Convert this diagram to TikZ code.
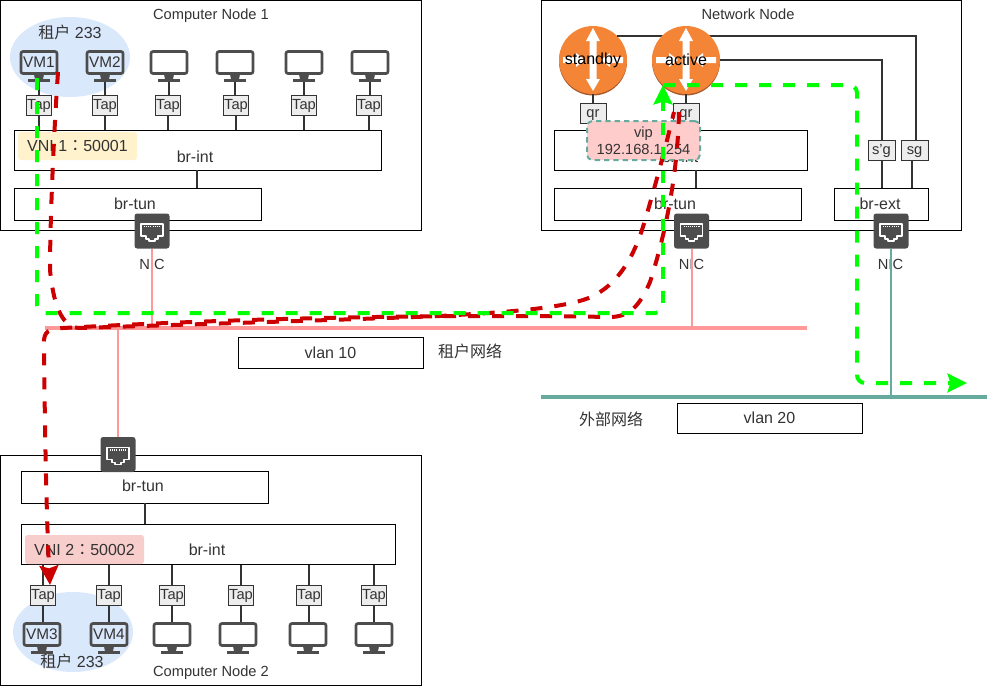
\documentclass[tikz,border=0pt]{standalone}
\usepackage{fontspec}
\setmainfont{Liberation Sans}
\newfontfamily\cjk{Noto Sans CJK SC}
\newfontfamily\cjkcolon{Noto Sans CJK TC}
\usetikzlibrary{arrows.meta, shapes.geometric}
\definecolor{txtgray}{HTML}{333333}
\definecolor{icongray}{HTML}{4D4D4D}
\definecolor{tenantblue}{HTML}{DAE8FC}
\definecolor{vnione}{HTML}{FFF2CC}
\definecolor{vnitwo}{HTML}{F8CECC}
\definecolor{vipred}{HTML}{FFCCCC}
\definecolor{tealline}{HTML}{67AB9F}
\definecolor{pinkline}{HTML}{FF9999}
\definecolor{routerorange}{HTML}{F58536}
\definecolor{routerdark}{HTML}{A9592A}
\definecolor{pathgreen}{HTML}{00FF00}
\definecolor{pathred}{HTML}{CC0000}
\tikzset{>={Stealth[length=14.5pt,width=14pt,inset=2pt]}}
\tikzset{
  wh/.style 2 args={minimum width=#1*0.75pt,minimum height=#2*0.75pt,inner sep=0pt},
  big/.style={font=\fontsize{12}{14}\selectfont,text=txtgray},
  small/.style={font=\fontsize{11}{12}\selectfont,text=txtgray,text height=8pt,text depth=1pt},
  plainbox/.style={draw=black,line width=0.75pt},
  smallbox/.style={draw=txtgray,fill=black!7,line width=0.75pt,small,wh={26}{20}},
  vmscreen/.style={draw=icongray,line width=2pt,rounded corners=1.5pt,wh={36}{22},
    font=\fontsize{11.5}{12}\selectfont,text=txtgray},
  tenant/.style={ellipse,fill=tenantblue,wh={120}{80}},
  nicbox/.style={fill=icongray,rounded corners=2pt,wh={35}{35}},
  router/.style={circle,fill=routerorange,wh={68}{68}},
  conn/.style={draw=txtgray,line width=1.5pt},
  greenpath/.style={draw=pathgreen,line width=3pt,dash pattern=on 9pt off 9pt,rounded corners=6pt},
  redpath/.style={draw=pathred,line width=3pt,dash pattern=on 9pt off 9pt},
  stand/.pic={
    \fill[icongray] (-5,0) -- (5,0) -- (4,5.5) -- (-4,5.5) -- cycle;
    \fill[icongray] (-11,5) rectangle (11,8);
  },
  port/.pic={
    \draw[white,line width=1.1pt,line join=round] (-11,-7) -- (11,-7) -- (11,5) -- (6,5) -- (6,8)
      -- (3,8) -- (3,10) -- (-3,10) -- (-3,8) -- (-6,8) -- (-6,5) -- (-11,5) -- cycle;
    \draw[white,line width=1pt,dash pattern=on 0.8pt off 0.8pt] (-8,-4.5) -- (8,-4.5);
  },
  cross/.pic={
    \fill[white] (0,-32) -- (7,-19) -- (3.5,-19) -- (3.5,19) -- (7,19) -- (0,31) -- (-7,19)
      -- (-3.5,19) -- (-3.5,-19) -- (-7,-19) -- cycle;
    \fill[white] (-30,-3) -- (-17,-3) -- (-17,-7) -- (-8,0) -- (-17,7) -- (-17,3) -- (-30,3) -- cycle;
    \fill[white] (30,-3) -- (17,-3) -- (17,-7) -- (8,0) -- (17,7) -- (17,3) -- (30,3) -- cycle;
  }
}
\begin{document}
\begin{tikzpicture}[x=0.75pt,y=-0.75pt]
\useasboundingbox (0,0) rectangle (990,686);
% computer node 1
\node[plainbox,wh={421}{230}] (cnodea) at (210.5,115) {};
\node[small] (cnodeaT) at (211,15) {Computer Node 1};
\node[tenant] (tenanta) at (70,57) {};
\node[big] (tenantaT) at (70,32) {{\cjk 租户} 233};
\node[plainbox,wh={367}{40}] (brinta) at (197.5,150) {};
\node[big] (brintaT) at (195,157) {br-int};
\node[plainbox,wh={247}{32}] (brtuna) at (137.5,204) {};
\node[big] (brtunaT) at (135,204) {br-tun};
\node[fill=vnione,rounded corners=2pt,big,wh={119}{28}] (vnia) at (77.5,146) {VNI 1{\cjkcolon ：}50001};
\foreach \i/\x/\tx/\t in {1/39/39/VM1,2/105/105/VM2,3/169/168/{},4/235/236/{},5/304/304/{},6/370/369/{}}{
  \node[vmscreen] (vma\i) at (\x,62.5) {\t};
  \pic at (\x,74) {stand};
  \coordinate (vmb\i) at (\x,82);
  \node[smallbox,wh={25}{20}] (tapa\i) at (\tx,105) {Tap};
  \draw[conn] (vmb\i) -- (vmb\i |- tapa\i.north);
  \draw[conn] (tapa\i) ++(0,10) -- (tapa\i.south |- brinta.north);
}
\draw[conn] (197,170) coordinate (linka) -- (linka |- brtuna.north);
\node[nicbox] (nica) at (152,231) {};
\pic at (nica) {port};
\node[small] (nicaT) at (152,264.5) {NIC};
% network node
\node[plainbox,wh={420}{230}] (nnode) at (751,115) {};
\node[small] (nnodeT) at (748,15) {Network Node};
\node[plainbox,wh={253}{40}] (brintn) at (680.5,150) {};
\node[big] (brintnT) at (680,157) {br-int};
\node[plainbox,wh={247}{32}] (brtunn) at (677.5,204) {};
\node[big] (brtunnT) at (675,204) {br-tun};
\node[plainbox,wh={94}{32}] (brext) at (881,204) {};
\node[big] (brextT) at (880,204) {br-ext};
\node[smallbox,wh={27}{20}] (sgb) at (881.5,150) {s'g};
\node[smallbox,wh={27}{20}] (sga) at (914.5,150) {sg};
\coordinate (sgin) at (915.7,140);
\fill[routerdark] (593,61.5) circle (34);
\node[router] (standby) at (593,60) {};
\pic at (standby) {cross};
\node[font=\fontsize{12}{14}\selectfont] (standbyT) at (593,60) {standby};
\draw[conn] (standby.45) -| (sgin);
\fill[routerdark] (686,61.5) circle (34);
\node[router] (active) at (686,60) {};
\pic at (active) {cross};
\node[font=\fontsize{12}{14}\selectfont] (activeT) at (686,60) {active};
\draw[conn] (active.east) -| (sgb.north);
\draw[conn] (sgb.south) -- (sgb.south |- brext.north);
\coordinate (sgout) at (911.7,160);
\draw[conn] (sgout) -- (sgout |- brext.north);
\node[smallbox] (qrs) at (593,113) {qr};
\node[smallbox] (qra) at (686,113) {qr};
\draw[conn] (standby.south) -- (qrs.north);
\draw[conn] (active.south) -- (qra.north);
\draw[conn] (qra.south) -- (qra.south |- brintn.north);
\draw[conn] (qrs.south) -- (qrs.south |- brintn.north);
\draw[conn] (695.7,170) coordinate (linkn) -- (linkn |- brtunn.north);
\node[draw=tealline,fill=vipred,rounded corners=4pt,line width=1.5pt,dash pattern=on 4pt off 3pt,
  font=\fontsize{11}{12}\selectfont,text=txtgray,align=center,wh={113}{39}] (vip) at (643.5,140.5) {vip\\[1pt]192.168.1.254};
\node[nicbox] (nicb) at (691.5,231) {};
\pic at (nicb) {port};
\node[small] (nicbT) at (691.5,264.5) {NIC};
\node[nicbox] (nicc) at (891,231) {};
\pic at (nicc) {port};
\node[small] (niccT) at (890.5,264.5) {NIC};
% networks
\coordinate (vlana) at (45,328);
\coordinate (vlanb) at (807,328);
\coordinate (vlanc) at (541,397);
\coordinate (vland) at (987,397);
\draw[pinkline,line width=1.5pt] (nica.south) -- (nica.south |- vlana);
\draw[pinkline,line width=1.5pt] (nicb.south) -- (nicb.south |- vlana);
\draw[tealline,line width=1.5pt] (nicc.south) -- (nicc.south |- vlanc);
\draw[pinkline,line width=3pt] (vlana) -- (vlanb);
\draw[tealline,line width=3pt] (vlanc) -- (vland);
\node[plainbox,big,wh={185}{31}] (vlanx) at (330.5,352.5) {vlan 10};
\node[big] (vlanxT) at (470,351) {\cjk 租户网络};
\node[plainbox,big,wh={185}{30}] (vlany) at (769.5,418) {vlan 20};
\node[big] (vlanyT) at (611,419) {\cjk 外部网络};
% computer node 2
\node[plainbox,wh={421}{230}] (cnodeb) at (210.5,570) {};
\node[small] (cnodebT) at (211,672) {Computer Node 2};
\node[tenant] (tenantb) at (73,632) {};
\node[plainbox,wh={247}{32}] (brtunb) at (144.5,487) {};
\node[big] (brtunbT) at (143,486) {br-tun};
\node[plainbox,wh={374}{40}] (brintb) at (208,544) {};
\node[big] (brintbT) at (207,550) {br-int};
\node[fill=vnitwo,rounded corners=2pt,big,wh={119}{29}] (vnib) at (84.5,549.5) {VNI 2{\cjkcolon ：}50002};
\draw[conn] (145,503) coordinate (linkb) -- (linkb |- brintb.north);
\foreach \i/\x/\tx/\t in {1/42/43/VM3,2/109/109/VM4,3/172/172/{},4/238/241/{},5/308/309/{},6/374/374/{}}{
  \node[vmscreen] (vmc\i) at (\x,634.5) {\t};
  \pic at (\x,646) {stand};
  \node[smallbox,wh={25}{20}] (tapb\i) at (\tx,595) {Tap};
  \draw[conn] (tapb\i.north) -- (tapb\i.north |- brintb.south);
  \draw[conn] (tapb\i.south) -- (tapb\i.south |- vmc\i.north);
}
\node[big] (tenantbT) at (72,661) {{\cjk 租户} 233};
\node[nicbox] (nicd) at (118,454.5) {};
\pic at (nicd) {port};
\draw[pinkline,line width=1.5pt] (nicd.north) -- (nicd.north |- vlana);
% traffic paths
\coordinate (reda) at (58,72);
\coordinate (redb) at (50,270);
\coordinate (redc) at (80,328);
\coordinate (redd) at (440,316);
\coordinate (rede) at (583,300);
\coordinate (redf) at (642,230);
\coordinate (redg) at (674,112);
\coordinate (redh) at (679,112);
\coordinate (redi) at (650,282);
\coordinate (redj) at (610,317);
\coordinate (redk) at (63,328);
\coordinate (redl) at (44,345);
\coordinate (redm) at (50,585);
\draw[redpath] (reda) .. controls (54,130) and (50,220) .. (redb) .. controls (53,300) and (60,328) .. (redc)
  .. controls (200,324) and (340,320) .. (redd) .. controls (490,313) and (550,310) .. (rede)
  .. controls (615,290) and (632,260) .. (redf) .. controls (650,205) and (665,150) .. (redg);
\draw[redpath,->] (redh) .. controls (678,160) and (670,220) .. (redi) .. controls (640,305) and (630,317) .. (redj)
  .. controls (500,315) and (300,315) .. (redk) .. controls (50,329) and (43,330) .. (redl)
  .. controls (45,450) and (47,530) .. (redm);
\coordinate (grna) at (37,78);
\coordinate (grnb) at (37,313);
\coordinate (grnc) at (663,313);
\coordinate (grnd) at (663,85);
\coordinate (grne) at (857,85);
\coordinate (grnf) at (857,383);
\coordinate (grng) at (967,383);
\draw[greenpath,->] (grna) -- (grnb) -- (grnc) -- (grnd);
\draw[greenpath,->] (grnd) -- (grne) -- (grnf) -- (grng);
\end{tikzpicture}
\end{document}
